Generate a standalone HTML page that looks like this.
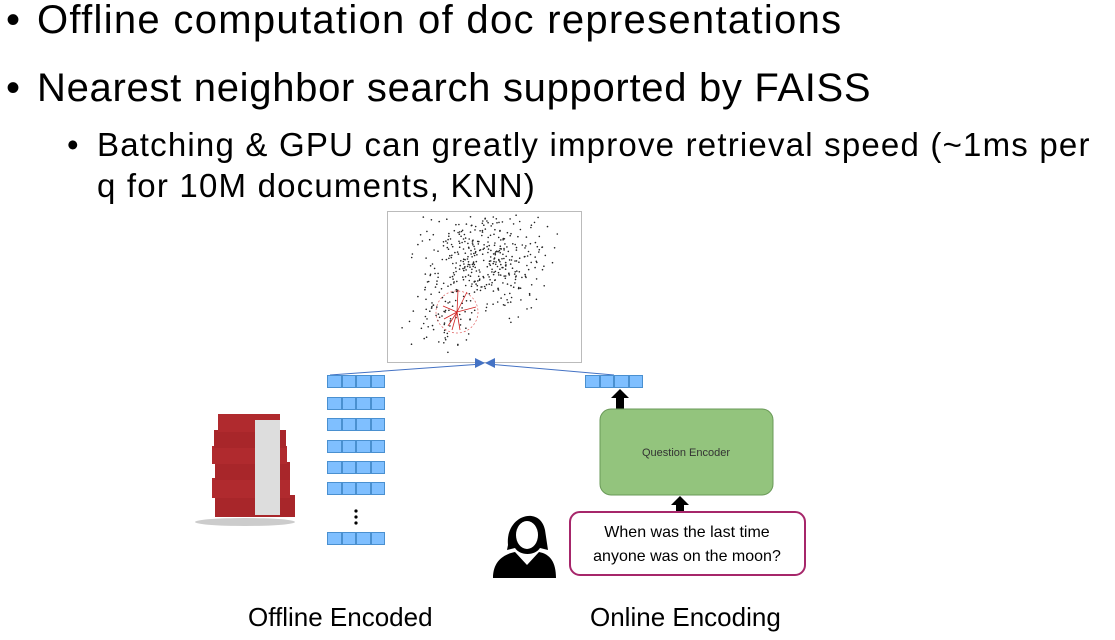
<!DOCTYPE html>
<html><head><meta charset="utf-8"><style>
body{margin:0;width:1115px;height:640px;background:#fff;position:relative;overflow:hidden;font-family:"Liberation Sans",sans-serif;}
.t{position:absolute;white-space:nowrap;color:#000;}
.b{position:absolute;color:#000;}
.vec{position:absolute;width:58px;height:13px;display:flex;}
.vec div{flex:1;background:#7fbfff;border:1px solid #4a90d0;}
</style></head><body>
<div class="b" style="left:6px;top:-2px;font-size:40px;">•</div>
<div class="t" style="left:37px;top:-2px;font-size:40px;letter-spacing:1.3px;">Offline computation of doc representations</div>
<div class="b" style="left:6px;top:66px;font-size:40px;">•</div>
<div class="t" style="left:37px;top:66px;font-size:40px;letter-spacing:0.7px;">Nearest neighbor search supported by FAISS</div>
<div class="b" style="left:67px;top:126px;font-size:33px;">•</div>
<div class="t" style="left:97px;top:126px;font-size:33px;letter-spacing:1.2px;">Batching &amp; GPU can greatly improve retrieval speed (~1ms per</div>
<div class="t" style="left:97px;top:167px;font-size:33px;letter-spacing:1.2px;">q for 10M documents, KNN)</div>

<svg style="position:absolute;left:0;top:0" width="1115" height="640">
<rect x="387.5" y="211.5" width="194" height="151" fill="#fff" stroke="#bbb"/>
<g id="dots" fill="#222"></g>
<circle cx="457" cy="312" r="21" fill="none" stroke="#e06060" stroke-dasharray="2,2" stroke-width="0.7"/>
<g stroke="#d02020" stroke-width="0.8">
<line x1="457" y1="312" x2="458" y2="290"/><line x1="457" y1="312" x2="467" y2="292"/><line x1="457" y1="312" x2="476" y2="307"/>
<line x1="457" y1="312" x2="443" y2="306"/><line x1="457" y1="312" x2="444" y2="319"/><line x1="457" y1="312" x2="452" y2="330"/>
<line x1="457" y1="312" x2="460" y2="330"/><line x1="457" y1="312" x2="448" y2="326"/>
</g>
<line x1="330" y1="375" x2="482" y2="364" stroke="#4472c4" stroke-width="1"/>
<line x1="614" y1="375" x2="488" y2="364" stroke="#4472c4" stroke-width="1"/>
<polygon points="475,358 485,363 475,368" fill="#4472c4"/>
<polygon points="495,358 485,363 495,368" fill="#4472c4"/>
<polygon points="620,389 611,398 616,398 616,409 624,409 624,398 629,398" fill="#000"/>
<polygon points="680,496 671,505 676,505 676,513 684,513 684,505 689,505" fill="#000"/>
<rect x="600" y="409" width="173" height="86" rx="11" fill="#93c47d" stroke="#6a9a58"/>
<text x="686" y="456" font-size="11" text-anchor="middle" fill="#333" font-family="Liberation Sans">Question Encoder</text>
<rect x="570" y="512" width="235" height="63" rx="10" fill="#fff" stroke="#a6266a" stroke-width="2"/>
<text x="687" y="537" font-size="16" text-anchor="middle" font-family="Liberation Sans">When was the last time</text>
<text x="687" y="561" font-size="16" text-anchor="middle" font-family="Liberation Sans">anyone was on the moon?</text>
<g fill="#000">
<path d="M508,545 C505,515 540,505 545,530 L548,550 L540,548 C535,556 520,556 515,548 L507,550 Z"/>
<path d="M493,578 C493,560 505,554 515,552 L527,565 L539,552 C550,554 556,562 556,578 Z"/>
</g>
<ellipse cx="527" cy="535" rx="11" ry="14" fill="#fff"/>
<g>
<rect x="215" y="495" width="80" height="22" fill="#a8262a"/>
<rect x="212" y="478" width="78" height="20" fill="#b02a2e"/>
<rect x="215" y="462" width="75" height="18" fill="#a8262a"/>
<rect x="212" y="446" width="75" height="18" fill="#b02a2e"/>
<rect x="214" y="430" width="72" height="18" fill="#a8262a"/>
<rect x="218" y="414" width="62" height="18" fill="#b02a2e"/>
<rect x="255" y="420" width="25" height="95" fill="#ddd"/>
<ellipse cx="245" cy="522" rx="50" ry="4" fill="#ccc"/>
</g>
<circle cx="356" cy="511" r="1.6"/><circle cx="356" cy="517" r="1.6"/><circle cx="356" cy="523" r="1.6"/>
</svg>
<div class="vec" style="left:327px;top:375px"><div></div><div></div><div></div><div></div></div>
<div class="vec" style="left:327px;top:397px"><div></div><div></div><div></div><div></div></div>
<div class="vec" style="left:327px;top:418px"><div></div><div></div><div></div><div></div></div>
<div class="vec" style="left:327px;top:440px"><div></div><div></div><div></div><div></div></div>
<div class="vec" style="left:327px;top:461px"><div></div><div></div><div></div><div></div></div>
<div class="vec" style="left:327px;top:482px"><div></div><div></div><div></div><div></div></div>
<div class="vec" style="left:327px;top:532px"><div></div><div></div><div></div><div></div></div>
<div class="vec" style="left:585px;top:375px"><div></div><div></div><div></div><div></div></div>
<div class="t" style="left:248px;top:602px;font-size:26px;">Offline Encoded</div>
<div class="t" style="left:590px;top:602px;font-size:26px;">Online Encoding</div>
<script>
var g=document.getElementById('dots'),s=7,h='';
function r(){s=(s*9301+49297)%233280;return s/233280;}
function n(){return (r()+r()+r()-1.5);}
for(var i=0;i<420;i++){var x=488+n()*58,y=262+n()*48;if(x<392||x>578||y<215||y>358)continue;h+='<circle cx="'+x.toFixed(1)+'" cy="'+y.toFixed(1)+'" r="0.8"/>';}
for(var i=0;i<60;i++){var x=443+n()*30,y=322+n()*30;if(y>356)continue;h+='<circle cx="'+x.toFixed(1)+'" cy="'+y.toFixed(1)+'" r="0.8"/>';}
g.innerHTML=h;
</script>
</body></html>
